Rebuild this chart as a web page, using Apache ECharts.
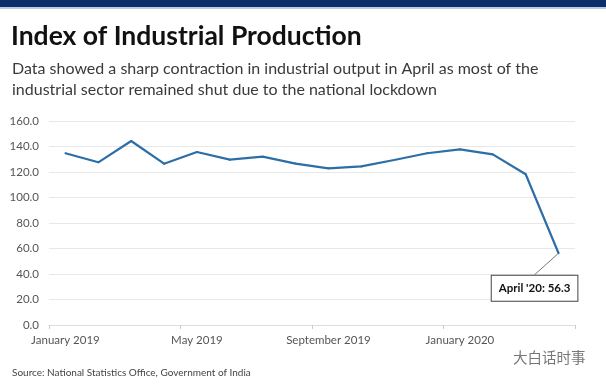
<!DOCTYPE html>
<html>
<head>
<meta charset="utf-8">
<script src="https://cdn.jsdelivr.net/npm/echarts@6/dist/echarts.min.js"></script>
<style>
html,body{margin:0;padding:0;background:#fff;}
#top{position:absolute;left:0;top:0;width:606px;height:7px;background:#0b2d6a;border-bottom:2px solid #b9cde3;}
#chart{width:606px;height:384px;}
</style>
</head>
<body>
<div id="chart"></div>
<div id="top"></div>
<script>
const titleText = 'Index of Industrial Production';
const subtitleLines = ['Data showed a sharp contraction in industrial output in April as most of the', 'industrial sector remained shut due to the national lockdown'];
const sourceText = 'Source: National Statistics Office, Government of India';
const watermarkText = '大白话时事';
const categories = ['January 2019','February 2019','March 2019','April 2019','May 2019','June 2019','July 2019','August 2019','September 2019','October 2019','November 2019','December 2019','January 2020','February 2020','March 2020','April 2020'];
const iipValues = [134.7, 127.6, 144.3, 126.5, 135.7, 129.7, 132.0, 126.6, 122.9, 124.4, 129.4, 134.7, 137.8, 133.8, 118.2, 56.3];
const annotationPrefix = "April '20: ";
const yTicks = [0, 20, 40, 60, 80, 100, 120, 140, 160];

const chart = echarts.init(document.getElementById('chart'));
const lastIdx = iipValues.length - 1;
const seriesData = iipValues.map((v, i) => i === lastIdx ? {
  value: v,
  label: {
    show: true,
    position: 'inside',
    formatter: (p) => annotationPrefix + p.value.toFixed(1),
    color: '#111',
    fontFamily: 'Lato',
    fontWeight: 'bold',
    fontSize: 11.5,
    backgroundColor: '#fff',
    borderColor: '#444',
    borderWidth: 1,
    padding: [7, 7, 6, 7]
  },
  labelLine: {show: true, lineStyle: {color: '#777', width: 1}}
} : v);

chart.setOption({
  animation: false,
  title: [
    {text: titleText, left: 6, top: 18, textStyle: {fontFamily: 'Lato', fontWeight: 'bold', fontSize: 26.5, color: '#111'}},
    {text: subtitleLines.join('\n'), left: 7, top: 53, textStyle: {fontFamily: 'Lato', fontWeight: 'normal', fontSize: 16, lineHeight: 21, color: '#3a3a3a'}},
    {text: sourceText, left: 7, top: 363, textStyle: {fontFamily: 'Lato', fontWeight: 'normal', fontSize: 10, color: '#444'}},
    {text: watermarkText, left: 508, top: 345, textStyle: {fontFamily: 'Noto Sans CJK SC', fontWeight: 'normal', fontSize: 14.5, color: '#777'}}
  ],
  grid: {left: 49, right: 31, top: 121, bottom: 59},
  xAxis: {
    type: 'category',
    data: categories,
    boundaryGap: true,
    axisLine: {lineStyle: {color: '#ddd'}},
    axisTick: {show: true, interval: 3, length: 4, lineStyle: {color: '#ccc'}},
    axisLabel: {interval: 3, color: '#555', fontFamily: 'Lato', fontSize: 11.5, margin: 9}
  },
  yAxis: {
    type: 'value',
    min: yTicks[0],
    max: yTicks[yTicks.length - 1],
    interval: yTicks[1] - yTicks[0],
    axisLine: {show: false},
    axisTick: {show: false},
    splitLine: {lineStyle: {color: '#e8e8e8'}},
    axisLabel: {formatter: (v) => v.toFixed(1), color: '#555', fontFamily: 'Lato', fontSize: 11.5, margin: 10}
  },
  series: [{
    type: 'line',
    data: seriesData,
    symbol: 'circle',
    symbolSize: 2,
    showSymbol: true,
    itemStyle: {color: '#2e6ea6'},
    lineStyle: {color: '#2e6ea6', width: 2.2},
    labelLayout: {dx: -24, dy: 35}
  }]
});
</script>
</body>
</html>
